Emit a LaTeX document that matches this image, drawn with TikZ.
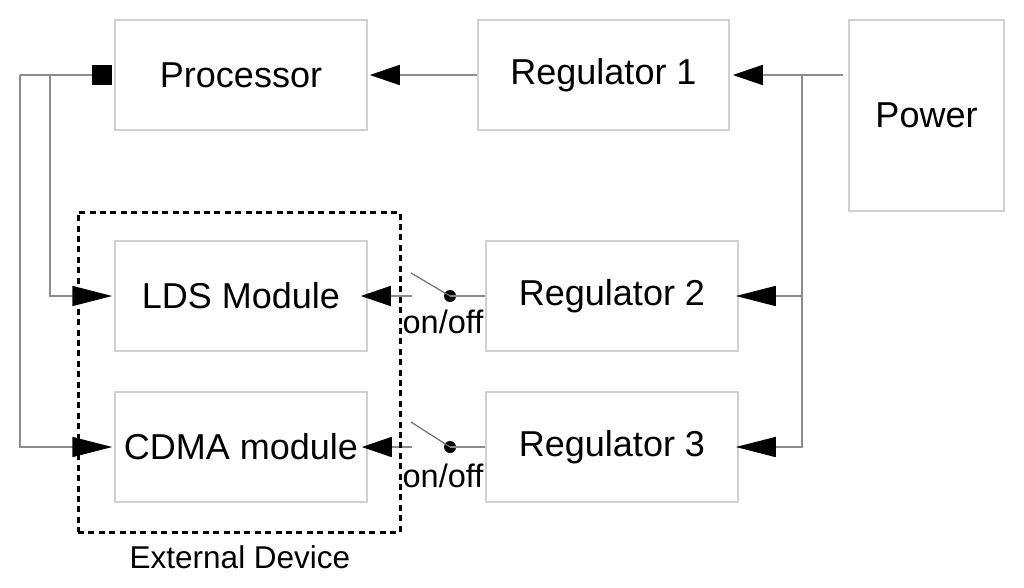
\documentclass[tikz,border=0pt]{standalone}
\usepackage{fontspec}
\setmainfont{Liberation Sans}
\usetikzlibrary{arrows.meta}
\definecolor{boxgray}{HTML}{D0D0D0}
\definecolor{linegray}{HTML}{8C8C8C}
\definecolor{levergray}{HTML}{707070}
\begin{document}
\begin{tikzpicture}[x=1pt,y=-1pt,
  box/.style={draw=boxgray,line width=1.5pt,minimum width=252pt,minimum height=110pt,inner sep=0pt,font=\fontsize{36}{40}\selectfont},
  conn/.style={draw=linegray,line width=1.5pt},
  lever/.style={draw=levergray,line width=1.2pt},
  bigtip/.style={-{Triangle[length=30pt,width=20pt,color=black]}},
  longtip/.style={-{Triangle[length=40pt,width=20pt,color=black]}},
  small/.style={font=\fontsize{32.5}{36}\selectfont,inner sep=0pt},
  dot/.style={circle,fill=black,minimum size=12pt,inner sep=0pt}]
\useasboundingbox[fill=white] (0,0) rectangle (1024,588);

% boxes
\node[box] (proc) at (241,75) {Processor};
\node[box,minimum width=251pt] (reg1) at (603.5,75) {Regulator 1};
\node[box,minimum width=155pt,minimum height=191pt] (power) at (926.5,115.5) {Power};
\node[box] (lds) at (241,296) {LDS Module};
\node[box] (cdma) at (241,447) {CDMA module};
\node[box] (reg2) at (612,296) {Regulator 2};
\node[box] (reg3) at (612,447) {Regulator 3};

% processor port
\node[fill=black,minimum size=20pt,inner sep=0pt,anchor=east] (sq) at ([xshift=-2pt]proc.west) {};

% left bus
\coordinate (ja) at (50,75);
\coordinate (jb) at (20,75);
\draw[conn] (sq.west) -- (jb);
\draw[conn,longtip] (ja) -- (ja |- lds.west) -- ([xshift=-2pt]lds.west);
\draw[conn,longtip] (jb) -- (jb |- cdma.west) -- ([xshift=-2pt]cdma.west);

% regulator 1 to processor
\draw[conn,bigtip] (reg1.west) -- ([xshift=2pt]proc.east);

% power distribution
\coordinate (pw) at (843,75);
\coordinate (pv) at (802,75);
\draw[conn,bigtip] (pw) -- ([xshift=3pt]reg1.east);
\draw[conn,longtip] (pv) -- (pv |- reg3.east) -- ([xshift=-3pt]reg3.east);
\draw[conn,longtip] (pv |- reg2.east) -- ([xshift=-3pt]reg2.east);

% switch LDS
\coordinate (s2a) at (412,296);
\coordinate (s2l) at (411,273);
\node[dot] (s2d) at (450,296) {};
\draw[conn] (s2d.center) -- (reg2.west);
\draw[lever] (s2d.center) -- (s2l);
\draw[conn,bigtip] (s2a) -- ([xshift=-7pt]lds.east);
\node[small,anchor=base] (on2) at (443,333) {on/off};

% switch CDMA
\coordinate (s3a) at (412,447);
\coordinate (s3l) at (411,422);
\node[dot] (s3d) at (450,447) {};
\draw[conn] (s3d.center) -- (reg3.west);
\draw[lever] (s3d.center) -- (s3l);
\draw[conn,bigtip] (s3a) -- ([xshift=-6pt]cdma.east);
\node[small,anchor=base] (on3) at (443,487) {on/off};

% external device
\node[draw=black,line width=3pt,dash pattern=on 6pt off 4.4pt,minimum width=322pt,minimum height=320pt,inner sep=0pt] (ext) at (239,372) {};
\node[font=\fontsize{31.5}{35}\selectfont,inner sep=0pt,anchor=base] (extlbl) at (240,568) {External Device};
\end{tikzpicture}
\end{document}
